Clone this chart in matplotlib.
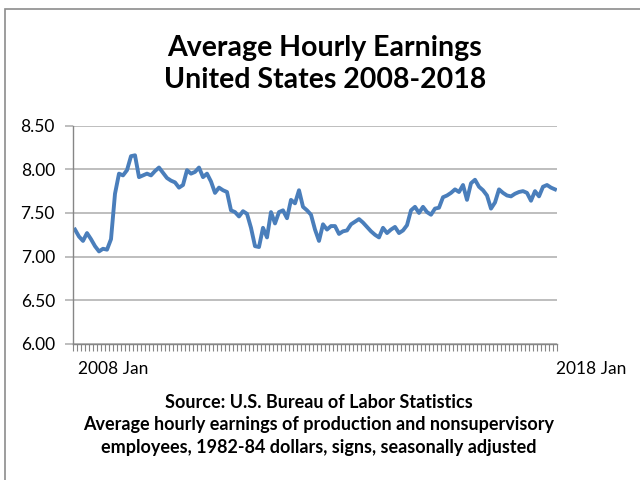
import numpy as np
import matplotlib
matplotlib.use("Agg")
import matplotlib.pyplot as plt
from matplotlib.patches import Rectangle

earnings = [
    7.31, 7.23, 7.18, 7.27, 7.20, 7.12, 7.06, 7.09, 7.08, 7.20, 7.72, 7.95,
    7.93, 7.99, 8.15, 8.16, 7.91, 7.93, 7.95, 7.93, 7.98, 8.02, 7.96, 7.90,
    7.87, 7.85, 7.79, 7.82, 7.99, 7.95, 7.97, 8.02, 7.91, 7.95, 7.86, 7.73,
    7.79, 7.76, 7.74, 7.53, 7.51, 7.46, 7.52, 7.49, 7.33, 7.12, 7.11, 7.33,
    7.22, 7.51, 7.38, 7.51, 7.53, 7.44, 7.65, 7.61, 7.76, 7.57, 7.53, 7.48,
    7.31, 7.18, 7.37, 7.31, 7.35, 7.35, 7.26, 7.29, 7.30, 7.37, 7.40, 7.43,
    7.39, 7.34, 7.29, 7.25, 7.22, 7.33, 7.27, 7.31, 7.34, 7.27, 7.30, 7.36,
    7.53, 7.57, 7.50, 7.57, 7.51, 7.48, 7.55, 7.56, 7.68, 7.70, 7.73, 7.77,
    7.74, 7.82, 7.65, 7.84, 7.88, 7.80, 7.76, 7.70, 7.55, 7.62, 7.77, 7.73,
    7.70, 7.69, 7.72, 7.74, 7.75, 7.73, 7.64, 7.75, 7.69, 7.80, 7.82, 7.79,
    7.77,
]
y_ticks = [6.00, 6.50, 7.00, 7.50, 8.00, 8.50]
x_end_labels = ["2008 Jan", "2018 Jan"]

title = "Average Hourly Earnings\nUnited States 2008-2018"
source_lines = [
    "Source: U.S. Bureau of Labor Statistics",
    "Average hourly earnings of production and nonsupervisory",
    "employees, 1982-84 dollars, signs, seasonally adjusted",
]

FONT = ["Lato", "DejaVu Sans"]
LINE_BLUE = "#4a7ebb"
AXIS_GRAY = "#868686"
GRID_GRAY = "#b3b3b3"

fig = plt.figure(figsize=(6.4, 4.8), dpi=100)
fig.patch.set_facecolor("white")

# outer chart border (runs off the right and bottom edges)
fig.patches.append(Rectangle((5 / 640, -0.05), 1.2, 1 - 9 / 480 + 0.05,
                             transform=fig.transFigure, fill=False,
                             edgecolor="#8c8c8c", linewidth=1.2))

ax = fig.add_axes([73 / 640, 1 - 344 / 480, 484 / 640, (344 - 125.6) / 480])
x = np.arange(len(earnings))
ax.plot(x, earnings, color=LINE_BLUE, linewidth=2.8, solid_joinstyle="round")

ax.set_xlim(-0.5, len(earnings) - 0.5)
ax.set_ylim(6.0, 8.5)
ax.set_yticks(y_ticks)
ax.set_yticklabels([f"{v:.2f}" for v in y_ticks], fontfamily=FONT, fontsize=12.5)
ax.yaxis.grid(True, color=GRID_GRAY, linewidth=1.2)
ax.set_axisbelow(True)

ax.set_xticks(np.arange(len(earnings) + 1) - 0.5)
ax.set_xticklabels([])
ax.tick_params(axis="x", length=5, width=0.8, color=AXIS_GRAY, direction="out")
ax.tick_params(axis="y", length=6, width=1.2, color=GRID_GRAY, pad=7)

for side in ["top", "right"]:
    ax.spines[side].set_visible(False)
for side in ["left", "bottom"]:
    ax.spines[side].set_color(AXIS_GRAY)
    ax.spines[side].set_linewidth(1)

fig.text(113 / 640, 1 - 369 / 480, x_end_labels[0], ha="center", va="center",
         fontfamily=FONT, fontsize=12.5)
fig.text(591 / 640, 1 - 369 / 480, x_end_labels[1], ha="center", va="center",
         fontfamily=FONT, fontsize=12.5)

fig.text(325 / 640, 1 - 64 / 480, title, ha="center", va="center",
         fontfamily=FONT, fontsize=20.5, fontweight="bold", linespacing=1.33)

for i, line in enumerate(source_lines):
    fig.text(319 / 640, 1 - (402 + 22.5 * i) / 480, line, ha="center", va="center",
             fontfamily=FONT, fontsize=13, fontweight="bold")

fig.savefig("out.png", dpi=100)
